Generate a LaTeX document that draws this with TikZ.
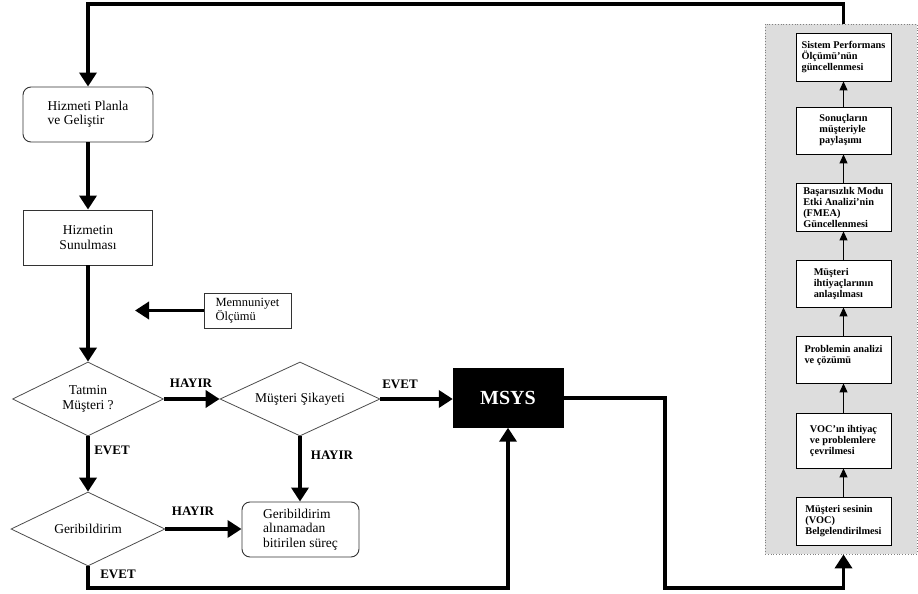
\documentclass[tikz,border=0pt]{standalone}
\usepackage{fontspec}
\setmainfont{Liberation Serif}
\usetikzlibrary{arrows.meta,shapes.geometric}
\begin{document}
\begin{tikzpicture}[x=1pt,y=-1pt,
  box/.style={draw=black!80,line width=0.9pt,inner sep=2pt,font=\fontsize{13.5}{14.5}\selectfont},
  dia/.style={draw=black!70,line width=0.8pt,shape=diamond,aspect=2,inner sep=0pt,align=center,font=\fontsize{13.5}{14.5}\selectfont},
  ibox/.style={draw=black,line width=0.8pt,fill=white,minimum width=95pt,align=left,inner sep=2pt,font=\bfseries\fontsize{10.3}{11}\selectfont},
  thk/.style={line width=3.5pt,-{Triangle[length=14pt,width=17pt]}},
  thn/.style={line width=1pt,-{Triangle[length=9pt,width=8pt]}},
  lab/.style={font=\bfseries\fontsize{13}{14}\selectfont,inner sep=0pt}]
\useasboundingbox (0,0) rectangle (918,594);

% grey panel
\node[draw=gray,dotted,line width=0.8pt,fill=gray!27,minimum width=152pt,minimum height=530pt,inner sep=0pt] (panel) at (841,289) {};

% left flow
\node[box,rounded corners=8pt,minimum width=130pt,minimum height=55pt,align=left] (plan) at (88,114.5) {Hizmeti Planla\\ve Geliştir};
\node[box,minimum width=129pt,minimum height=55pt,align=center] (sun) at (88,237.5) {Hizmetin\\Sunulması};
\node[box,minimum width=87pt,minimum height=35pt,align=left,font=\fontsize{12.5}{13.5}\selectfont] (mem) at (247.5,310.5) {Memnuniyet\\Ölçümü};
\coordinate (memend) at (135,310.5);

\node[dia,minimum width=151pt,minimum height=74pt] (tat) at (88,399) {Tatmin\\Müşteri ?};
\node[dia,minimum width=160pt,minimum height=74pt] (sik) at (300,399) {Müşteri Şikayeti};
\node[dia,minimum width=154pt,minimum height=74pt] (ger) at (88,529) {Geribildirim};

\node[fill=black,draw=black,minimum width=110pt,minimum height=59pt,text=white,font=\bfseries\fontsize{20}{22}\selectfont] (msys) at (508,398) {MSYS};

\node[box,rounded corners=8pt,minimum width=117pt,minimum height=55pt,align=left] (gab) at (300.5,529.5) {Geribildirim\\alınamadan\\bitirilen süreç};

% panel boxes
\node[ibox,minimum height=48pt] (b1) at (843.5,57) {Sistem Performans\\Ölçümü'nün\\güncellenmesi};
\node[ibox,minimum height=47pt] (b2) at (843.5,130.5) {Sonuçların\\müşteriyle\\paylaşımı};
\node[ibox,minimum height=48pt] (b3) at (843.5,207) {Başarısızlık Modu\\Etki Analizi'nin\\(FMEA)\\Güncellenmesi};
\node[ibox,minimum height=47pt] (b4) at (843.5,283.5) {Müşteri\\ihtiyaçlarının\\anlaşılması};
\node[ibox,minimum height=47pt] (b5) at (843.5,359.5) {Problemin analizi\\ve çözümü\\\mbox{}};
\node[ibox,minimum height=55pt] (b6) at (843.5,440.5) {VOC'ın ihtiyaç\\ve problemlere\\çevrilmesi};
\node[ibox,minimum height=48pt] (b7) at (843.5,521) {Müşteri sesinin\\(VOC)\\Belgelendirilmesi};

\draw[thn] (b7) -- (b6);
\draw[thn] (b6) -- (b5);
\draw[thn] (b5) -- (b4);
\draw[thn] (b4) -- (b3);
\draw[thn] (b3) -- (b2);
\draw[thn] (b2) -- (b1);

% labels
\node[lab] (l1) at (191,383) {HAYIR};
\node[lab] (l2) at (400,384) {EVET};
\node[lab] (l3) at (332,455) {HAYIR};
\node[lab] (l4) at (112,450) {EVET};
\node[lab] (l5) at (193,511) {HAYIR};
\node[lab] (l6) at (118,574) {EVET};

% connectors
\coordinate (top) at (0,4);
\coordinate (bot) at (0,588);
\coordinate (mx) at (665,0);
\draw[thk] (b1 |- panel.north) -- (b1 |- top) -| (plan.north);
\draw[thk] (plan) -- (sun);
\draw[thk] (sun) -- (tat);
\draw[thk] (mem.west) -- (memend);
\draw[thk] (tat.east) -- (sik.west);
\draw[thk] (sik.east) -- (sik.east -| msys.west);
\draw[thk] (sik.south) -- (sik.south |- gab.north);
\draw[thk] (tat.south) -- (ger.north);
\draw[thk] (ger.east) -- (ger.east -| gab.west);
\draw[thk] (ger.south) -- (ger.south |- bot) -| (msys.south);
\draw[thk] (msys.east) -| (mx |- bot) -| (b7 |- panel.south);
\end{tikzpicture}
\end{document}
